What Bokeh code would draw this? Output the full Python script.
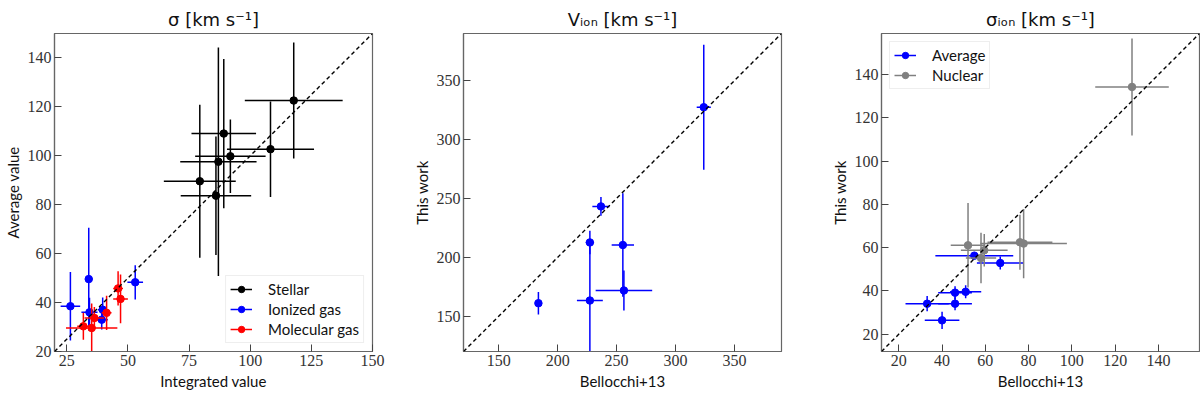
from bokeh.plotting import figure
from bokeh.layouts import row
from bokeh.models import ColumnDataSource, Legend, LegendItem, FixedTicker, Range1d, Slope
from bokeh.embed import file_html
from bokeh.resources import INLINE

# ---------------- Panel 1: sigma ----------------
stellar_x = [117.8, 108.3, 91.9, 89.2, 87.0, 79.4, 86.0]
stellar_xerr = [20.0, 17.8, 14.4, 13.2, 15.6, 14.7, 14.4]
stellar_y = [122.6, 102.7, 99.8, 109.1, 97.6, 89.6, 83.7]
stellar_yerr = [23.7, 19.5, 15.0, 30.5, 46.7, 31.3, 24.2]

ionized_x = [26.5, 34.0, 34.3, 39.3, 39.7, 53.0]
ionized_xerr = [4.0, 1.5, 3.3, 2.5, 2.0, 3.2]
ionized_y = [38.5, 49.6, 36.0, 33.0, 37.1, 48.3]
ionized_yerr = [14.0, 21.0, 6.0, 4.0, 5.0, 7.0]

molecular_x = [35.2, 31.8, 36.3, 41.3, 46.0, 47.0]
molecular_xerr = [10.5, 2.5, 4.0, 2.0, 2.0, 3.0]
molecular_y = [29.6, 30.3, 33.7, 35.8, 45.8, 41.5]
molecular_yerr = [10.0, 5.5, 4.5, 7.0, 7.0, 10.0]

# ---------------- Panel 2: V_ion ----------------
vion_x = [183.6, 236.7, 227.3, 227.3, 255.3, 256.2, 324.0]
vion_xerr = [2.0, 7.3, 3.5, 11.0, 9.5, 24.0, 6.0]
vion_y = [161.0, 243.2, 212.6, 163.3, 210.4, 171.8, 327.4]
vion_yerr = [9.5, 8.0, 10.0, 50.0, 44.0, 17.0, 53.0]

# ---------------- Panel 3: sigma_ion ----------------
avg_x = [33.1, 40.0, 46.0, 46.0, 50.9, 54.9, 66.9]
avg_xerr = [10.0, 8.0, 7.8, 7.8, 7.2, 18.0, 10.8]
avg_y = [34.1, 26.4, 34.1, 39.2, 39.6, 56.3, 52.9]
avg_yerr = [3.5, 4.0, 3.0, 3.0, 3.0, 1.5, 3.0]

nuc_x = [127.8, 52.0, 58.0, 59.5, 76.0, 77.7]
nuc_xerr = [17.0, 8.0, 7.0, 10.8, 15.0, 20.0]
nuc_y = [134.3, 61.1, 55.2, 58.8, 62.5, 61.9]
nuc_yerr = [22.4, 19.5, 11.7, 7.5, 12.7, 16.0]

SANS = "Lato"
SERIF = "Liberation Serif"
TITLE_FONT = "DejaVu Sans"
FRAME = "#666666"


def make_fig(bl, br, title, xlab, ylab, xr, yr, xt, yt):
    p = figure(frame_width=318, frame_height=318, output_backend="svg", toolbar_location=None,
               x_range=Range1d(*xr), y_range=Range1d(*yr),
               min_border_left=bl, min_border_right=br, min_border_top=33, min_border_bottom=41)
    p.title.text = title
    p.title.align = "center"
    p.title.text_font = TITLE_FONT
    p.title.text_font_size = "18px"
    p.title.text_font_style = "normal"
    p.title.text_color = "#111111"
    p.title.standoff = 7
    p.xgrid.visible = False
    p.ygrid.visible = False
    p.outline_line_color = FRAME
    p.outline_line_width = 1.2
    p.xaxis.ticker = FixedTicker(ticks=xt)
    p.yaxis.ticker = FixedTicker(ticks=yt)
    p.xaxis.axis_label = xlab
    p.yaxis.axis_label = ylab
    for ax in (p.xaxis, p.yaxis):
        ax.axis_line_color = FRAME
        ax.axis_line_width = 1.2
        ax.major_tick_in = 7
        ax.major_tick_out = 0
        ax.major_tick_line_color = "#444444"
        ax.minor_tick_line_color = None
        ax.major_label_text_font = SERIF
        ax.major_label_text_font_size = "16px"
        ax.major_label_text_color = "#333333"
        ax.major_label_standoff = 3
        ax.axis_label_text_font = SANS
        ax.axis_label_text_font_size = "15px"
        ax.axis_label_text_font_style = "normal"
        ax.axis_label_text_color = "#111111"
        ax.axis_label_standoff = 3
    p.add_layout(Slope(gradient=1, y_intercept=0, line_color="black",
                       line_dash="4 3", line_width=1.4))
    return p


def errbars(p, x, y, xerr, yerr, color):
    src = ColumnDataSource(dict(
        x=x, y=y,
        x0=[a - e for a, e in zip(x, xerr)], x1=[a + e for a, e in zip(x, xerr)],
        y0=[a - e for a, e in zip(y, yerr)], y1=[a + e for a, e in zip(y, yerr)],
    ))
    h = p.segment(x0="x0", y0="y", x1="x1", y1="y", source=src, line_color=color, line_width=1.5)
    p.segment(x0="x", y0="y0", x1="x", y1="y1", source=src, line_color=color, line_width=1.5)
    c = p.scatter(x="x", y="y", source=src, size=7.5, fill_color=color, line_color=color)
    return [h, c]


def style_legend(lg):
    lg.label_text_font = SANS
    lg.label_text_font_size = "15px"
    lg.label_text_color = "#111111"
    lg.label_standoff = 16
    lg.label_height = 16
    lg.glyph_width = 22
    lg.glyph_height = 16
    lg.spacing = 2
    lg.padding = 4
    lg.margin = 8
    lg.border_line_color = "#dddddd"
    lg.border_line_width = 1
    lg.background_fill_alpha = 0.9


# Panel 1
p1 = make_fig(52, 37, "σ [km s⁻¹]", "Integrated value", "Average value",
              (20, 150), (20, 150), [25, 50, 75, 100, 125, 150], [20, 40, 60, 80, 100, 120, 140])
r_st = errbars(p1, stellar_x, stellar_y, stellar_xerr, stellar_yerr, "black")
r_io = errbars(p1, ionized_x, ionized_y, ionized_xerr, ionized_yerr, "blue")
r_mo = errbars(p1, molecular_x, molecular_y, molecular_xerr, molecular_yerr, "red")
lg1 = Legend(items=[LegendItem(label="Stellar", renderers=r_st),
                    LegendItem(label="Ionized gas", renderers=r_io),
                    LegendItem(label="Molecular gas", renderers=r_mo)],
             location="bottom_right")
style_legend(lg1)
p1.add_layout(lg1)

# Panel 2
p2 = make_fig(52, 46, "Vᵢₒₙ [km s⁻¹]", "Bellocchi+13", "This work",
              (120, 390), (120, 390), [150, 200, 250, 300, 350], [150, 200, 250, 300, 350])
errbars(p2, vion_x, vion_y, vion_xerr, vion_yerr, "blue")

# Panel 3
p3 = make_fig(52, 3, "σᵢₒₙ [km s⁻¹]", "Bellocchi+13", "This work",
              (12, 159), (12, 159), [20, 40, 60, 80, 100, 120, 140], [20, 40, 60, 80, 100, 120, 140])
r_av = errbars(p3, avg_x, avg_y, avg_xerr, avg_yerr, "blue")
r_nu = errbars(p3, nuc_x, nuc_y, nuc_xerr, nuc_yerr, "gray")
lg3 = Legend(items=[LegendItem(label="Average", renderers=r_av),
                    LegendItem(label="Nuclear", renderers=r_nu)],
             location="top_left")
style_legend(lg3)
p3.add_layout(lg3)

layout = row(p1, p2, p3, spacing=0)
open("out.html", "w").write(file_html(layout, INLINE))
